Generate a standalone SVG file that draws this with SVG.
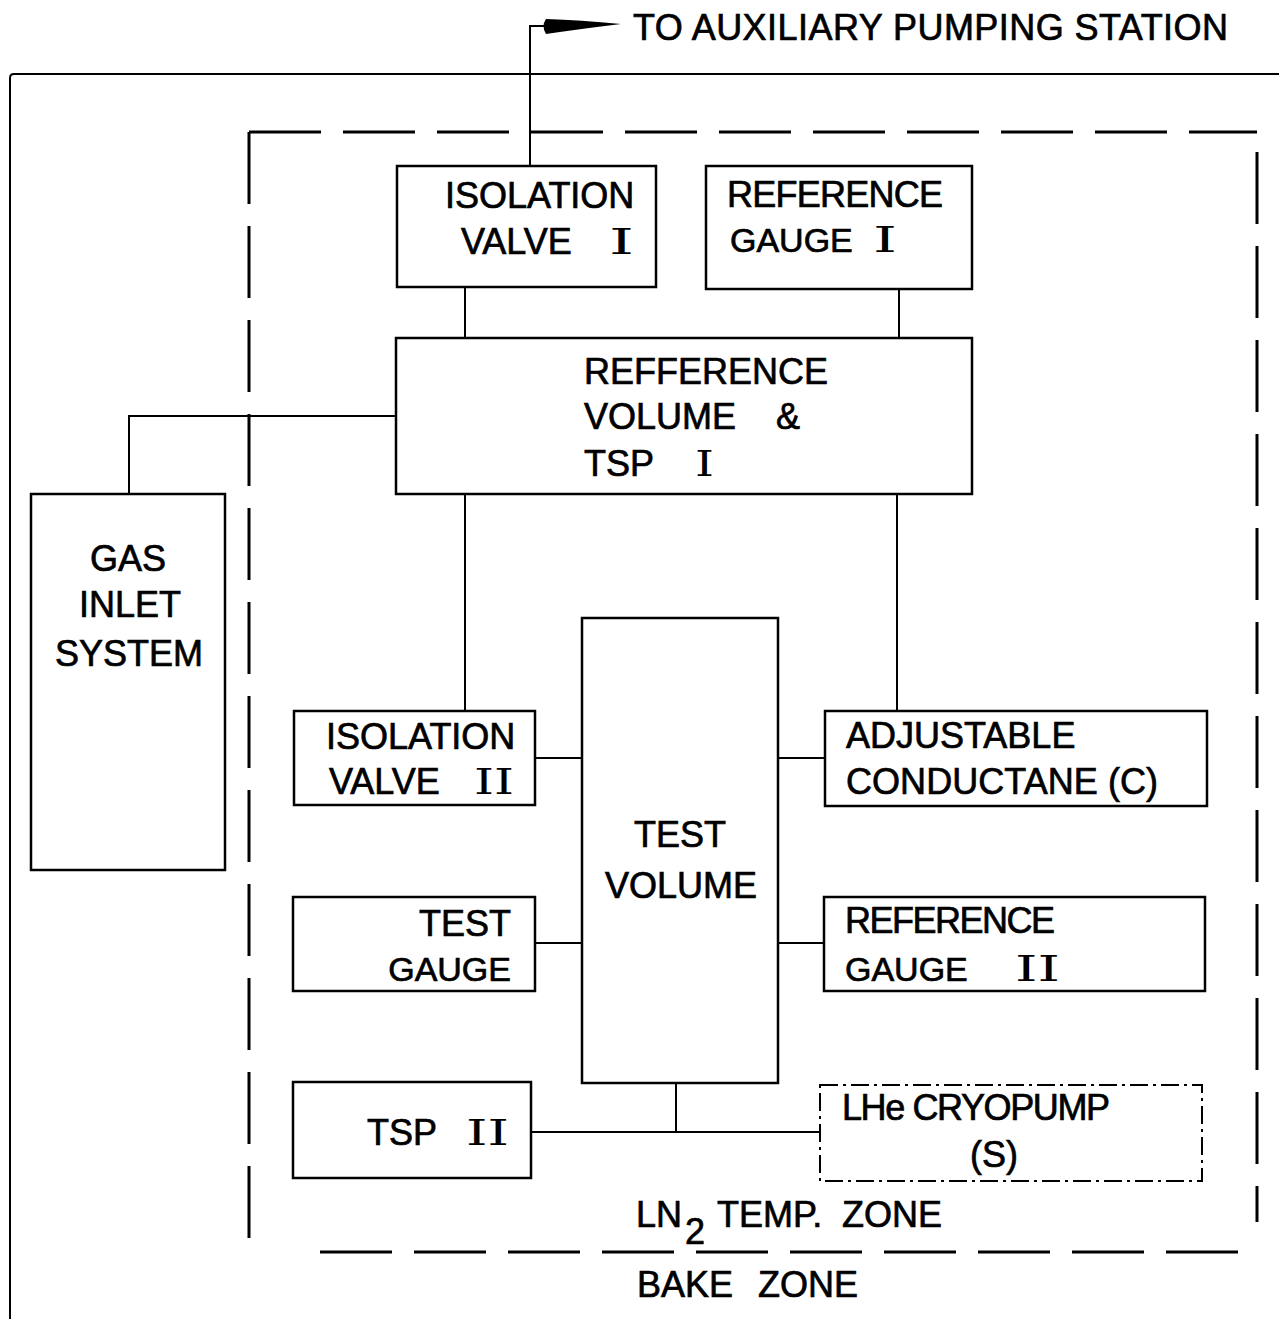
<svg xmlns="http://www.w3.org/2000/svg" width="1279" height="1319" viewBox="0 0 1279 1319">
<style>
.box{fill:none;stroke:#000;stroke-width:2.5}
.ln{fill:none;stroke:#000;stroke-width:2}
.dash{fill:none;stroke:#000;stroke-width:3;stroke-dasharray:72 22}
.dd{fill:none;stroke:#000;stroke-width:2;stroke-dasharray:18 5 3 5}
text{font-family:"Liberation Sans",Arial,sans-serif;font-size:36px;fill:#000;stroke:#000;stroke-width:0.7}
.rn{font-family:"DejaVu Serif","Liberation Serif",serif;font-size:36px;stroke-width:0}
.g{font-size:34px}
</style>
<rect width="1279" height="1319" fill="#fff"/>
<g id="frame">
<path d="M10,1319 V78 Q10,74 14,74 H1279" class="ln" stroke-width="2.5"/>
<line x1="249" y1="132" x2="1257" y2="132" class="dash"/>
<line x1="249" y1="132" x2="249" y2="1252" class="dash"/>
<line x1="1257" y1="152" x2="1257" y2="1222" class="dash"/>
<line x1="320" y1="1252" x2="1252" y2="1252" class="dash"/>
<text x="636" y="1227">LN</text>
<text x="685" y="1244" font-size="32">2</text>
<text x="717" y="1227">TEMP.</text>
<text x="842" y="1227">ZONE</text>
<text x="637" y="1297">BAKE</text>
<text x="758" y="1297">ZONE</text>
</g>
<g id="connectors">
<path d="M530,166 V26 H548" class="ln" stroke-width="3"/>
<path d="M546,19 Q580,20 621,24 Q580,29 546,34 Q541,26 546,19 Z" fill="#000"/>
<line x1="465" y1="287" x2="465" y2="338" class="ln"/>
<line x1="899" y1="289" x2="899" y2="338" class="ln"/>
<path d="M396,416 H129 V494" class="ln"/>
<line x1="465" y1="494" x2="465" y2="711" class="ln"/>
<line x1="897" y1="494" x2="897" y2="711" class="ln"/>
<line x1="535" y1="758" x2="582" y2="758" class="ln"/>
<line x1="778" y1="758" x2="825" y2="758" class="ln"/>
<line x1="535" y1="943" x2="582" y2="943" class="ln"/>
<line x1="778" y1="943" x2="824" y2="943" class="ln"/>
<line x1="676" y1="1083" x2="676" y2="1132" class="ln"/>
<line x1="531" y1="1132" x2="820" y2="1132" class="ln"/>
</g>
<g id="aux-label">
<text x="633" y="40" textLength="595">TO AUXILIARY PUMPING STATION</text>
</g>
<g id="isolation-valve-1">
<rect x="397" y="166" width="259" height="121" class="box"/>
<text x="445" y="208">ISOLATION</text>
<text x="461" y="254">VALVE</text>
<text x="609" y="254" class="rn" textLength="25" lengthAdjust="spacingAndGlyphs">I</text>
</g>
<g id="reference-gauge-1">
<rect x="706" y="166" width="266" height="123" class="box"/>
<text x="727" y="207" textLength="216">REFERENCE</text>
<text x="730" y="252" class="g">GAUGE</text>
<text x="873" y="252" class="rn" textLength="24" lengthAdjust="spacingAndGlyphs">I</text>
</g>
<g id="reference-volume">
<rect x="396" y="338" width="576" height="156" class="box"/>
<text x="584" y="384">REFFERENCE</text>
<text x="584" y="429">VOLUME</text>
<text x="776" y="429">&amp;</text>
<text x="584" y="476">TSP</text>
<text x="695" y="476" class="rn" textLength="19" lengthAdjust="spacingAndGlyphs">I</text>
</g>
<g id="gas-inlet">
<rect x="31" y="494" width="194" height="376" class="box"/>
<text x="128" y="571" text-anchor="middle">GAS</text>
<text x="130" y="617" text-anchor="middle">INLET</text>
<text x="129" y="666" text-anchor="middle">SYSTEM</text>
</g>
<g id="test-volume">
<rect x="582" y="618" width="196" height="465" class="box"/>
<text x="680" y="847" text-anchor="middle">TEST</text>
<text x="681" y="898" text-anchor="middle">VOLUME</text>
</g>
<g id="isolation-valve-2">
<rect x="294" y="711" width="241" height="94" class="box"/>
<text x="326" y="749">ISOLATION</text>
<text x="329" y="794">VALVE</text>
<text x="474" y="794" class="rn" textLength="40" lengthAdjust="spacingAndGlyphs">II</text>
</g>
<g id="adjustable-conductance">
<rect x="825" y="711" width="382" height="95" class="box"/>
<text x="846" y="748">ADJUSTABLE</text>
<text x="846" y="794" textLength="312">CONDUCTANE (C)</text>
</g>
<g id="test-gauge">
<rect x="293" y="897" width="242" height="94" class="box"/>
<text x="511" y="936" text-anchor="end">TEST</text>
<text x="511" y="981" text-anchor="end" class="g">GAUGE</text>
</g>
<g id="reference-gauge-2">
<rect x="824" y="897" width="381" height="94" class="box"/>
<text x="845" y="933" textLength="210">REFERENCE</text>
<text x="845" y="981" class="g">GAUGE</text>
<text x="1015" y="981" class="rn" textLength="45" lengthAdjust="spacingAndGlyphs">II</text>
</g>
<g id="tsp-2">
<rect x="293" y="1082" width="238" height="96" class="box"/>
<text x="367" y="1145">TSP</text>
<text x="466" y="1145" class="rn" textLength="43" lengthAdjust="spacingAndGlyphs">II</text>
</g>
<g id="cryopump">
<rect x="820" y="1085" width="382" height="96" class="dd"/>
<text x="842" y="1120" textLength="268">LHe CRYOPUMP</text>
<text x="994" y="1167" text-anchor="middle">(S)</text>
</g>
</svg>
